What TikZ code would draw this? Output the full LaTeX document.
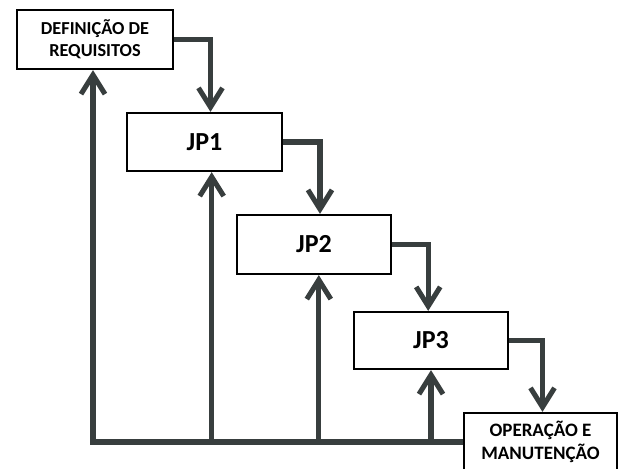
\documentclass[tikz,border=0pt]{standalone}
\usepackage{fontspec}
\setmainfont{Carlito}
\usetikzlibrary{arrows.meta}
\definecolor{flowgray}{HTML}{383E3E}
\begin{document}
\begin{tikzpicture}
	[
		x=0.025cm, y=-0.025cm,
		phase/.style={draw=black, line width=1.6pt, fill=white, inner sep=0pt, align=center, font=\bfseries},
		flow/.style={draw=flowgray, line width=3.6pt, -{Straight Barb[length=0.48cm, width=0.6cm]}},
		feed/.style={draw=flowgray, line width=3.6pt}
	]
	\useasboundingbox (0,0) rectangle (619,468);

	\node (def) at (95.0, 39.5)  [phase, minimum width=156*0.025cm, minimum height=59*0.025cm,
		font=\bfseries\fontsize{13}{15.5}\selectfont] {DEFINIÇÃO DE\\REQUISITOS};
	\node (jp1) at (204.5, 142.0) [phase, minimum width=155*0.025cm, minimum height=58*0.025cm,
		font=\bfseries\fontsize{18.5}{22}\selectfont] {JP1};
	\node (jp2) at (314.0, 244.5) [phase, minimum width=154*0.025cm, minimum height=59*0.025cm,
		font=\bfseries\fontsize{18.5}{22}\selectfont] {JP2};
	\node (jp3) at (431.0, 340.5) [phase, minimum width=154*0.025cm, minimum height=57*0.025cm,
		font=\bfseries\fontsize{18.5}{22}\selectfont] {JP3};
	\node (om)  at (540.5, 442.0) [phase, minimum width=153*0.025cm, minimum height=58*0.025cm,
		font=\bfseries\fontsize{13.5}{16}\selectfont] {OPERAÇÃO E\\MANUTENÇÃO};

	% forward flow
	\draw [flow] (def.east) -| ([xshift=0.15cm]jp1.north);
	\draw [flow] (jp1.east) -| ([xshift=0.15cm]jp2.north);
	\draw [flow] (jp2.east) -| ([xshift=-0.07cm]jp3.north);
	\draw [flow] (jp3.east) -| ([xshift=0.05cm]om.north);

	% feedback
	\draw [flow] (om.west) -| ([xshift=-0.05cm]def.south);
	\draw [flow] ([xshift=0.18cm]jp1.south |- om.west) -- ([xshift=0.18cm]jp1.south);
	\draw [flow] ([xshift=0.12cm]jp2.south |- om.west) -- ([xshift=0.12cm]jp2.south);
	\draw [flow] (jp3.south |- om.west) -- (jp3.south);
\end{tikzpicture}
\end{document}
